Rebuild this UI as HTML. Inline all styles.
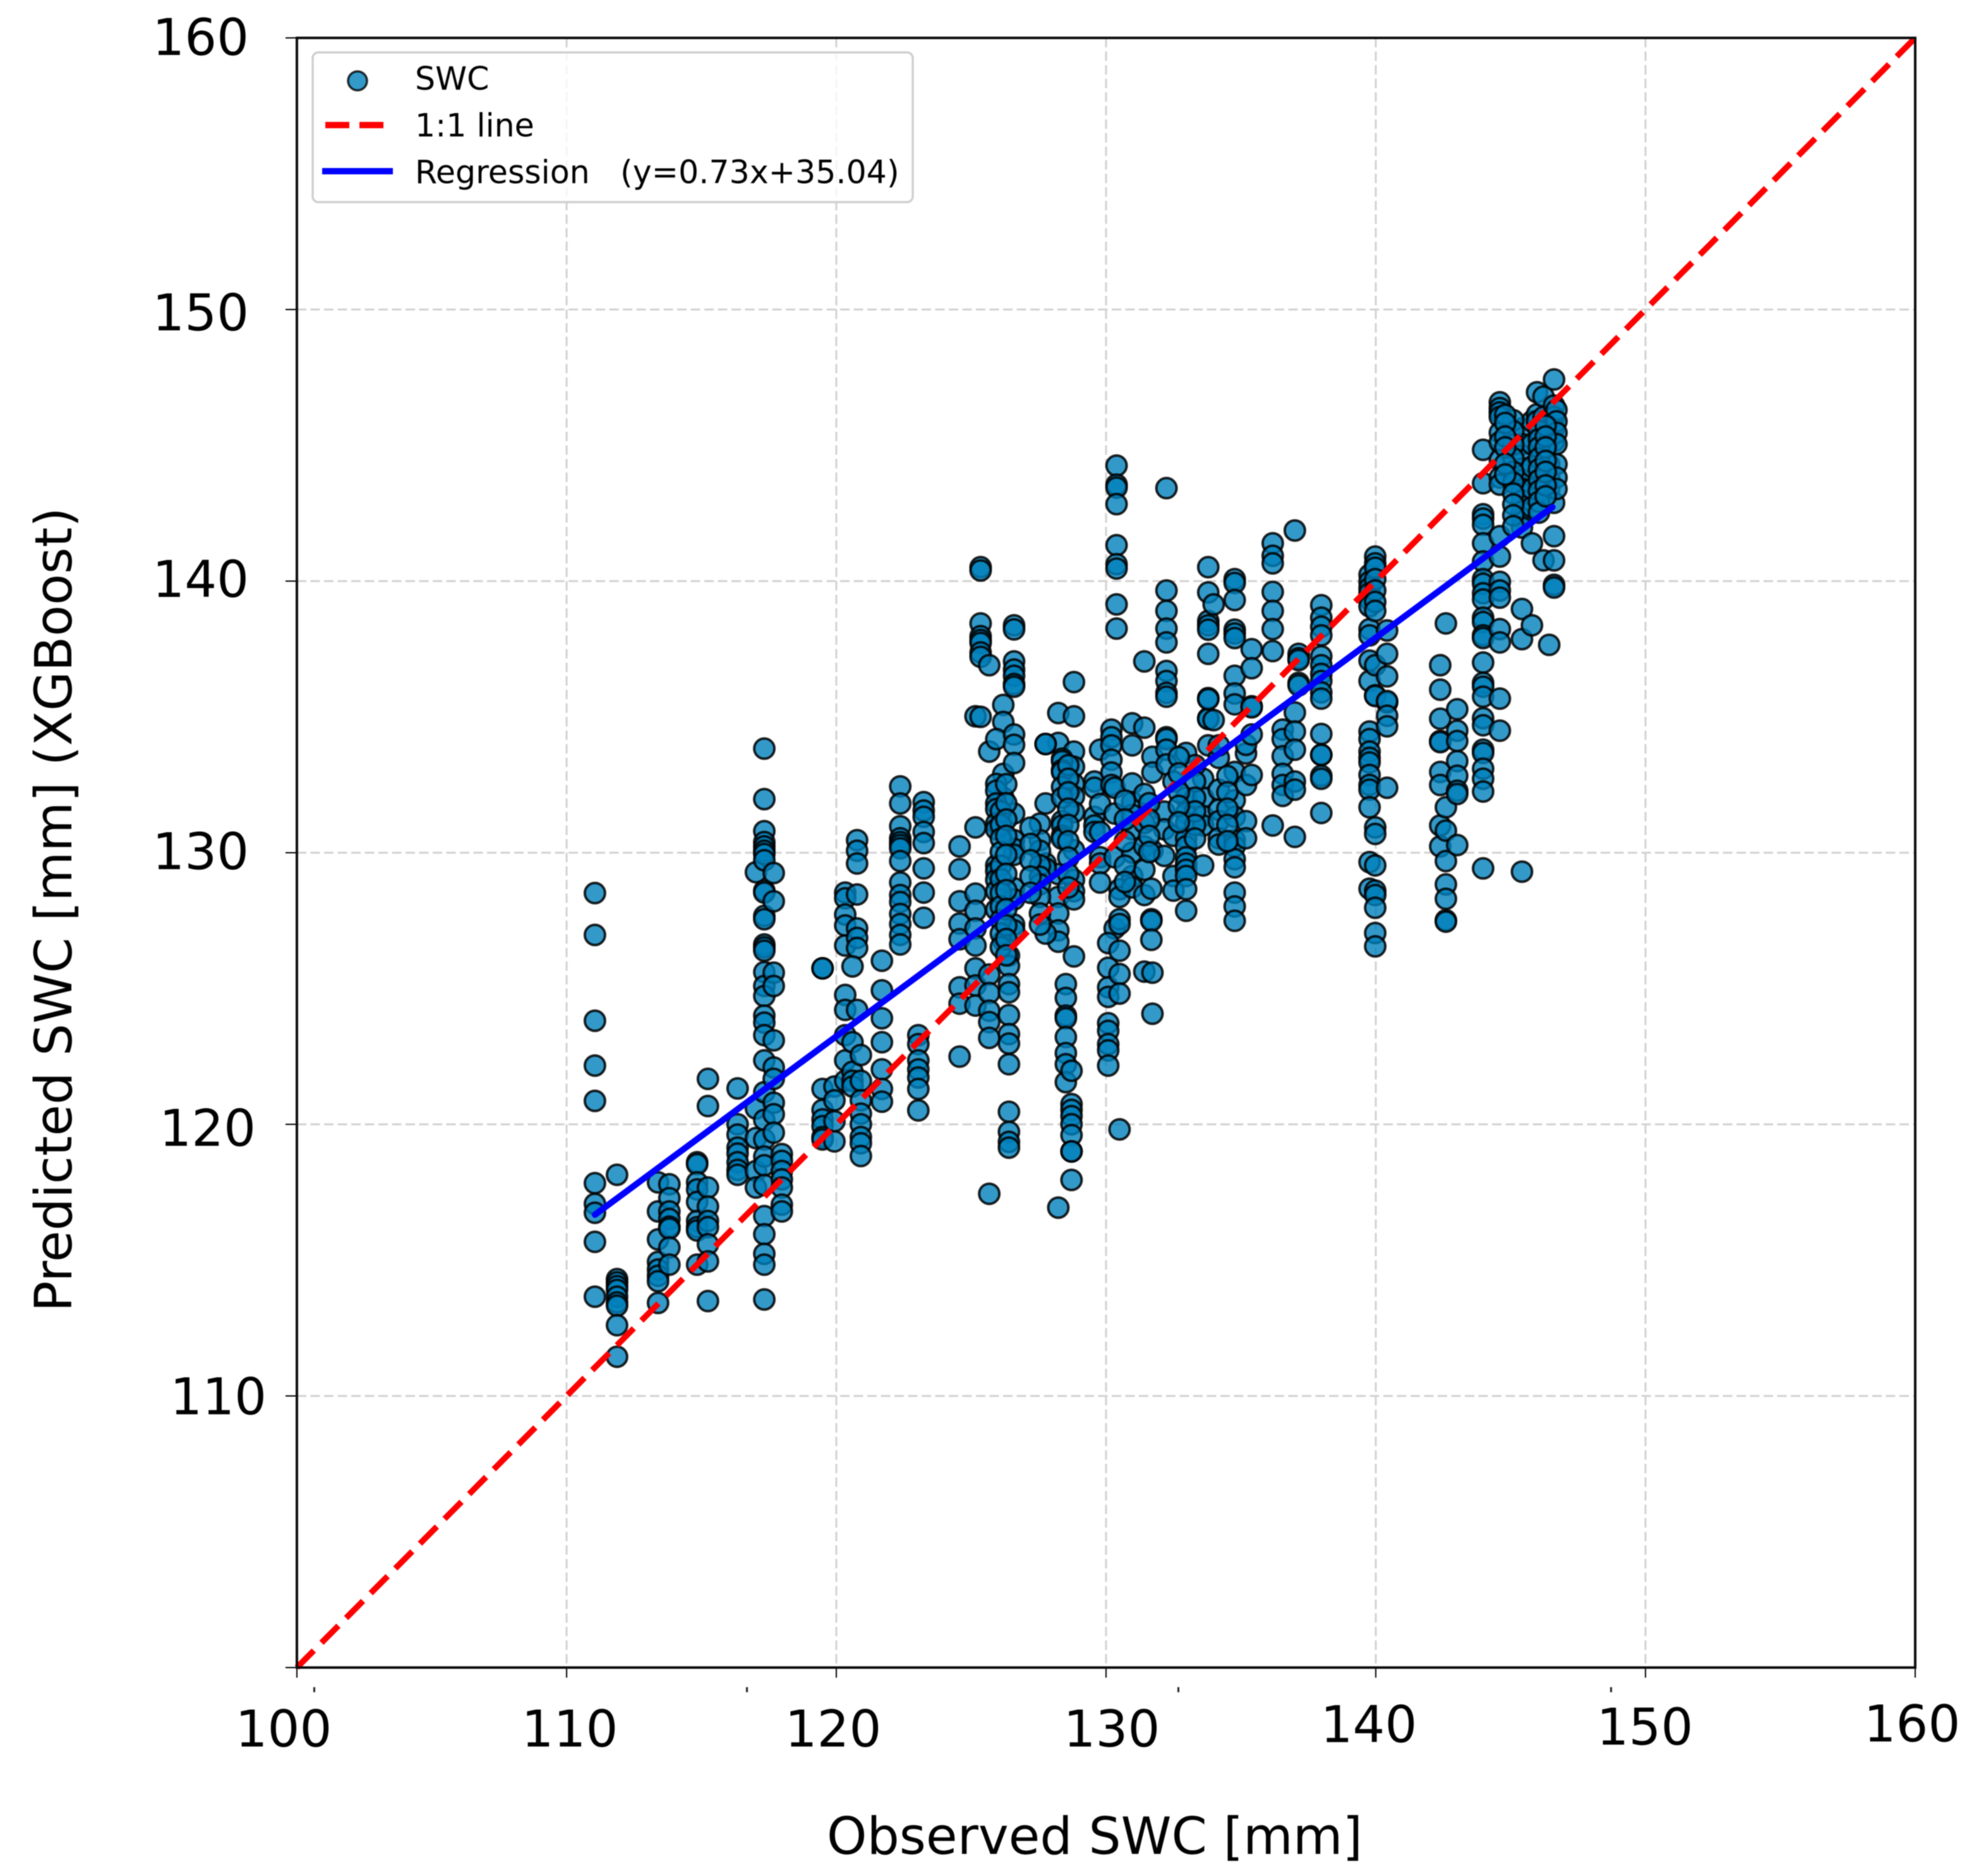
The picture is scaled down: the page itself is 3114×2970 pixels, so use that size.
<!DOCTYPE html>
<html lang="en">
<head>
<meta charset="utf-8">
<title>Observed vs Predicted SWC</title>
<style>
html,body{margin:0;padding:0;background:#fff;width:3114px;height:2970px;overflow:hidden}
svg{display:block;filter:blur(0.8px)}
text{font-family:"DejaVu Sans","Liberation Sans",sans-serif;fill:#000}
</style>
</head>
<body>
<svg id="chart" xmlns="http://www.w3.org/2000/svg" width="3114" height="2970" viewBox="0 0 3114 2970">
<rect x="0" y="0" width="3114" height="2970" fill="#fff"/>
<g id="grid"></g>
<g id="points"></g>
<g id="lines"></g>
<g id="frame"></g>

<g font-size="80" text-anchor="middle">
<text x="449" y="2765">100</text>
<text x="902" y="2765">110</text>
<text x="1319" y="2765">120</text>
<text x="1760" y="2765">130</text>
<text x="2167" y="2758">140</text>
<text x="2604" y="2762">150</text>
<text x="3027" y="2757">160</text>
</g>
<g font-size="80" text-anchor="end">
<text x="394" y="87">160</text>
<text x="394" y="523">150</text>
<text x="394" y="945">140</text>
<text x="394" y="1376">130</text>
<text x="405" y="1814">120</text>
<text x="422" y="2239">110</text>
</g>
<text x="1733" y="2935" font-size="80.8" text-anchor="middle">Observed SWC [mm]</text>
<text transform="translate(113,1440) rotate(-90)" font-size="80.8" text-anchor="middle">Predicted SWC [mm] (XGBoost)</text>

<g fill="#222">
<rect x="496" y="2671" width="3" height="8"/>
<rect x="1181" y="2671" width="3" height="8"/>
<rect x="1864" y="2671" width="3" height="8"/>
<rect x="2549" y="2671" width="3" height="8"/>
</g>

<g>
<rect x="495" y="83" width="950" height="237" rx="9" fill="#fff" fill-opacity="0.8" stroke="#cfcfcf" stroke-width="3.5"/>
<circle cx="566" cy="128" r="15" fill="#0080bb" fill-opacity="0.8" stroke="#000" stroke-opacity="0.8" stroke-width="3.5"/>
<text x="657" y="142" font-size="50.6">SWC</text>
<line x1="515" y1="198" x2="607" y2="198" stroke="#ff0000" stroke-width="10" stroke-dasharray="38 16"/>
<text x="657" y="216" font-size="50.6">1:1 line</text>
<line x1="510" y1="271" x2="622" y2="271" stroke="#0000ff" stroke-width="10"/>
<text x="657" y="290" font-size="50.6" xml:space="preserve">Regression   (y=0.73x+35.04)</text>
</g>
</svg>
<script>
const xTickValues = [100, 110, 120, 130, 140, 150, 160];
const yTickValues = [100, 110, 120, 130, 140, 150, 160];
const identityLine = [100, 160];
const regressionX = [111.05, 146.55];
const regressionY = [116.65, 142.7];

const observedColumns = [
111.05,111.87,113.39,113.81,114.84,115.24,116.34,117.02,117.33,117.68,117.98,119.49,119.93,120.33,120.77,120.6,120.91,
121.69,122.37,123.24,123.04,124.57,125.16,125.35,125.67,126.19,125.93,126.59,126.4,128.23,128.81,127.76,127.55,128.37,
128.51,128.72,129.57,129.78,130.2,130.32,130.08,130.5,130.39,130.97,131.42,131.72,132.24,132.16,132.5,131.68,
132.97,133.6,133.79,133.99,134.18,134.77,135.19,135.4,136.18,136.55,137,137.14,137.98,139.77,139.98,140.42,
142.39,142.6,143.02,143.98,144.6,145.42,145.79,145.98,146.22,146.43,146.61,146.7,
146.05,146.3,145.1,144.8,126.1,126.3,133.3,134.5,131.6,128.6,127.2,130.7,132.7
];

const predictedColumns = [
[128.49,126.95,123.79,122.14,120.84,117.81,117.05,116.72,115.65,113.63],
[118.12,114.28,114.16,114.02,113.88,113.63,113.42,113.3,112.58,111.42],
[117.84,116.77,115.74,114.91,114.63,114.4,114.2,113.4],
[117.77,117.26,116.77,116.49,116.21,116.14,115.44,114.81],
[118.58,118.51,117.84,117.58,117.12,116.42,116.19,116.07,114.81],
[121.65,120.65,117.65,116.95,116.42,116.19,115.56,114.93,113.47],
[121.3,119.98,119.6,119.12,118.9,118.58,118.3,118.12],
[129.26,120.56,119.47,118.26,117.65],
[133.81,131.95,130.77,130.37,130.21,130.05,129.93,129.7,128.58,128.51,127.65,127.53,126.6,126.49,126.37,125.58,125.07,124.7,123.98,123.72,123.26,122.33,121.16,120.14,119.42,118.79,118.47,117.74,116.6,115.93,115.21,114.81,113.53],
[129.23,128.19,125.56,125.07,123.07,122.07,121.65,120.77,120.35,119.67],
[118.88,118.63,118.26,117.95,117.65,117.02,116.77],
[125.72,125.72,121.28,120.51,120.16,119.91,119.51,119.42],
[121.37,120.86,120.09,119.35],
[128.51,128.3,127.7,127.3,126.56,124.74,124.19,123.26,122.33,121.58],
[130.44,130.05,129.58,128.44,127.19,126.84,126.47,124.19],
[125.79,123,121.91,121.58,121.37],
[122.53,121.58,120.86,120.37,119.98,119.51,119.28,118.81],
[126,124.91,123.88,123,122,121.28,120.81],
[132.42,131.79,130.95,130.51,130.37,130.26,130.14,129.67,128.88,128.42,128.16,127.72,127.35,126.95,126.6],
[131.84,131.53,131.3,130.74,130.33,129.4,128.51,127.58],
[123.26,122.93,122.33,122,121.7,121.28,120.49],
[130.21,129.37,128.19,127.37,126.79,125.02,124.42,122.47],
[130.91,128.47,127.84,127.19,126.56,125.72,125.09,124.35,135],
[140.49,140.37,138.42,137.95,137.81,137.7,137.35,137.19,134.98],
[136.88,133.7,125.49,124.81,124.16,123.74,123.16,117.42],
[135.42,134.79,132.88,132,126.74],
[134.16,132.51,132.26,131.79,131.58,131.05,130.84,129.51,129.3,128.98,128.56,127.88],
[138.35,138.2,137.02,136.72,136.49,136.19,136.09,134.33,133.95,133.28,131.42,130.44,130.12,129.9,128.67,128.26,127.33,127.12],
[126.19,125.81,125.14,124.84,124,123.3,122.95,122.19,120.44,119.7,119.33,119.12],
[135.12,134.02,129.19,128.35,127.74,127.12,126.7,116.91],
[136.26,135,133.7,133.14,132.51,132.05,131.47,130.07,128.98,128.56,128.26,126.16],
[133.98,133.98,131.79,129.58,129.4,127],
[131.05,130.44,130.05,129.51,129.09,128.81,128.35,127.74,127.33],
[133.44,133.35,133.02,132.95,132.4,132,131.14,130.98,130.6,130.49],
[125.14,124.63,123.98,123.88,123.19,122.6,122.19,121.53],
[121.95,120.72,120.51,120.28,119.98,119.58,118.98,118.98,117.93],
[132.6,132.37,131.3,130.98,130.74],
[133.77,131.77,130.74,129.81,129.58,128.88],
[134.51,134.23,133.93,133.4,132.93,132.47],
[132.37,131.42,129.81,127.19],
[125.74,125.02,124.67,123.7,123.42,122.93,122.7,122.14,126.65],
[128.63,128.35,127.53,127.35,126.37,125.51,124.79,119.79],
[144.23,143.53,143.42,142.81,141.3,140.6,140.44,139.12,138.23],
[134.74,133.93,132.53,131.84,131.37,130.84,129.98,129.12,128.7],
[137.02,134.58,132.14,131.07,130.21,129.35,128.42,125.6],
[133.51,132.93,130.05,125.56,124.05],
[143.4,134.23,134.16,133.77,133.23,139.63,138.88,138.23,137.72,136.67,136.3,135.86,135.72],
[131.49,130.84,129.86],
[132.6,130.6,129.12,128.58],
[127.53,127.47,126.77,128.65],
[133.65,132,131.44,131.07,130.51,130.21,129.44,129.81,129.58,129.35,129.12,128.63,127.84],
[132.7,132,131.33,130.98,129.51],
[140.49,139.56,138.51,138.35,138.19,137.3,135.67,134.93,134.9,135.63,133.93],
[139.12,134.86],
[133.47,132.3,131.56,131.14,130.51,130.28,133.93],
[140.05,139.91,139.28,138.19,138.05,137.88,136.49,135.84,135.44,132.95,131.91,131.3,130.44,130.21,129.74,129.44,128.51,128,127.47],
[133.63,132.47,131.14,130.51,133.95],
[137.47,136.77,135.37,135.33,134.33,132.84],
[141.37,140.91,140.63,139.58,138.88,138.21,137.4,130.98],
[134.51,134.16,133.53,132.88,132.47,132.07],
[141.84,135.14,134.44,133.77,132.6,132.3,130.56],
[137.3,137.14,137.07,136.23,136.14],
[139.09,138.63,138.3,137.98,137.21,136.88,136.56,136.3,135.88,135.65,134.35,133.58,133.58,132.81,132.7,131.44],
[140.21,139.95,139.72,139.53,139.3,139.05,138.21,137.98,137.05,136.3,134.44,134.16,133.7,133.47,133.3,132.84,132.47,132.3,131.65,129.63,128.65],
[140.88,140.63,140.47,140.05,139.63,139.21,138.88,136.88,135.77,135.75,130.91,130.67,129.51,128.58,128.42,127.95,127.02,126.53],
[138.16,137.3,136.47,135.51,135.56,135.02,134.63,132.37],
[136.88,135.98,134.91,134.09,134.05,132.95,132.47,130.98,130.21],
[138.42,131.65,130.79,129.67,128.81,128.28,127.49,127.44],
[135.26,134.47,134.09,133.35,132.81,132.26,132.14,130.26],
[144.81,143.58,142.44,142.28,142.05,141.37,140.7,140.05,139.88,139.53,139.3,138.63,138.47,137.98,137.88,136.98,136.23,136.09,135.72,134.93,134.67,133.77,133.65,133.07,132.7,132.23,129.4],
[146.56,146.35,146.19,146.02,145.44,145.09,144.44,143.79,143.53,141.63,140.88,139.95,139.63,139.37,138.21,137.72,135.65,134.47],
[145.6,145.02,144.6,144.12,143.7,143.37,143.21,142.95,142.53,142.28,141.95,138.95,137.84,129.28],
[145.86,145.02,144.19,143.37,142.7,141.37,138.35],
[146.93,146.12,145.86],
[146.77,146.02,144.81,140.74],
[145.19,144.28,143.79,143.37,137.63],
[147.4,146.44,146.02,145.6,145.12,142.86,141.63,140.74,139.84,139.74],
[146.28,145.86,145.44,145.02,144.28,143.79,143.37],
[145.5,145.2,144.9,144.5,144.1,143.7,143.3,142.9,142.5],
[145.7,145.3,144.9,144.4,144,143.5,143.1],
[145.9,145.5,145,144.5,144,143.6,143.2,142.8,142.4,142],
[146.1,145.8,145.3,144.9,144.3,143.9],
[131.5,131,130.5,130,129.5,129,128.5,128,127.5,127,126.5],
[132.5,131.8,131.2,130.6,129.9,129.2,128.6,127.9,127.3,126.8,126.2],
[133.2,132.6,132,131.5,131,130.5],
[132.8,132.2,131.6,131,130.4],
[131.8,131.2,130.6,130],
[133.2,132.7,132.2,131.6,131,130.4,129.8,129.2,128.7],
[130.9,130.3,129.7,129.1,128.5],
[131.9,131.2,130.4,129.5,128.9],
[133.5,132.9,132.2,131.7,131.1]
];

const svgNS = 'http://www.w3.org/2000/svg';
function xScale(v) { return 1751 + (v - 130) * 42.7; }
function yScale(v) { return 1349 - (v - 130) * 43; }
function make(tag, parent, attrs) {
  const el = document.createElementNS(svgNS, tag);
  for (const k in attrs) el.setAttribute(k, attrs[k]);
  parent.appendChild(el);
  return el;
}

const gridGroup = document.getElementById('grid');
const frameGroup = document.getElementById('frame');
const pointsGroup = document.getElementById('points');
const linesGroup = document.getElementById('lines');
const xLeft = xScale(100), xRight = xScale(160), yBottom = yScale(100) + 1, yTop = yScale(160) + 1;

xTickValues.forEach(function (t) {
  const x = xScale(t);
  if (t > 100 && t < 160) {
    const g = make('line', gridGroup, {x1: x, x2: x, y1: yTop, y2: yBottom, stroke: '#d2d2d2', 'stroke-width': 3, 'stroke-dasharray': '15 6.5'});
    
    
  }
  const m = make('line', frameGroup, {x1: x, x2: x, y1: yBottom, y2: yBottom + 16, stroke: '#000', 'stroke-width': 2});
  
  
});
yTickValues.forEach(function (t) {
  const y = yScale(t) + 1;
  if (t > 100 && t < 160) {
    const g = make('line', gridGroup, {x1: xLeft, x2: xRight, y1: y, y2: y, stroke: '#d2d2d2', 'stroke-width': 3, 'stroke-dasharray': '15 6.5'});
    
    
  }
  const m = make('line', frameGroup, {x1: xLeft - 18, x2: xLeft, y1: y, y2: y, stroke: '#000', 'stroke-width': 2});
  
  
});
const spine = make('rect', frameGroup, {x: xLeft, y: yTop, width: xRight - xLeft, height: yBottom - yTop, fill: 'none', stroke: '#0c0c0c', 'stroke-width': 4});



observedColumns.forEach(function (obs, i) {
  predictedColumns[i].forEach(function (pred) {
    const c = make('circle', pointsGroup, {cx: xScale(obs), cy: yScale(pred), r: 16, fill: '#0080bb', 'fill-opacity': 0.8, stroke: '#000', 'stroke-opacity': 0.85, 'stroke-width': 4});
    
    
  });
});

const identity = make('line', linesGroup, {x1: xScale(identityLine[0]), y1: yScale(identityLine[0]) + 1, x2: xScale(identityLine[1]), y2: yScale(identityLine[1]) + 1, stroke: '#ff0000', 'stroke-width': 9.5, 'stroke-dasharray': '38 17.3'});



const regression = make('line', linesGroup, {x1: xScale(regressionX[0]), y1: yScale(regressionY[0]), x2: xScale(regressionX[1]), y2: yScale(regressionY[1]), stroke: '#0000ff', 'stroke-width': 10, 'stroke-linecap': 'round'});


</script>
</body>
</html>
